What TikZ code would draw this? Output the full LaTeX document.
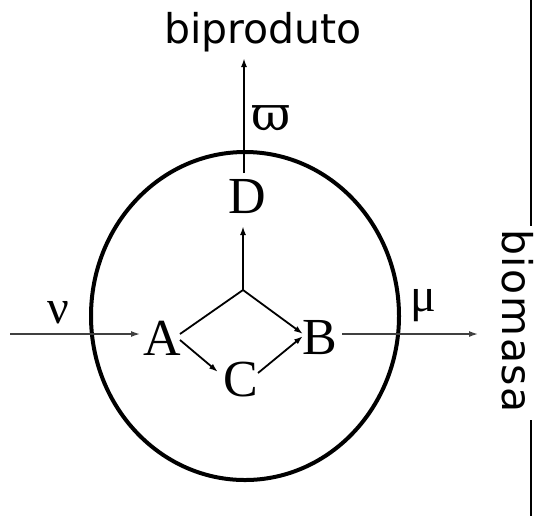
\documentclass[tikz,border=0pt]{standalone}
\usepackage{fontspec}
\setmainfont{Liberation Serif}
\newfontfamily\labsans{DejaVu Sans}
\newfontfamily\labsanswide[LetterSpace=4]{DejaVu Sans}
\newfontfamily\greekserif{DejaVu Serif}
\usetikzlibrary{arrows.meta}
\tikzset{
  letter/.style={inner sep=0pt, font=\fontsize{26}{26}\selectfont},
  greek/.style={inner sep=0pt, font=\fontsize{24}{24}\selectfont},
  title/.style={inner sep=0pt, font=\labsans\fontsize{20.5}{20.5}\selectfont},
  sidetitle/.style={inner sep=0pt, font=\labsanswide\fontsize{20.5}{20.5}\selectfont},
  flow/.style={line width=0.9pt, -{Latex[length=4.5pt,width=3pt]}},
  ext/.style={line width=0.7pt, black!75, -{Latex[length=4.5pt,width=3pt]}},
  wall/.style={line width=2pt},
}
\begin{document}
\begin{tikzpicture}[x=0.5pt,y=-0.5pt]
\useasboundingbox (0,0) rectangle (534,516);
% cell boundary
\draw[wall] (245,316) ellipse [x radius=77pt, y radius=82pt];
% nodes
\node[letter] (A) at (162,338) {A};
\node[letter] (B) at (320,338) {B};
\node[letter] (C) at (241,380) {C};
\node[letter] (D) at (247,197) {D};
\coordinate (J) at (243,290);
\coordinate (Aup) at (180,334);
\coordinate (Adn) at (180,340);
\coordinate (Bup) at (303,334);
\coordinate (Bdn) at (303,336);
\coordinate (Cin) at (218,372);
\coordinate (Cout) at (258,373);
\coordinate (Din) at (243,226);
\coordinate (Dout) at (244,173);
\coordinate (top) at (244,58);
\coordinate (nuin) at (10,334);
\coordinate (nuend) at (140,334);
\coordinate (muin) at (342,334);
\coordinate (muend) at (478,334);
% connectors
\draw[line width=0.9pt] (Aup) -- (J);
\draw[flow] (J) -- (Bup);
\draw[flow] (J) -- (Din);
\draw[flow] (Adn) -- (Cin);
\draw[flow] (Cout) -- (Bdn);
\draw[flow] (Dout) -- (top);
\draw[ext] (nuin) -- (nuend);
\draw[ext] (muin) -- (muend);
% labels
\node[greek] (nu) at (58,313) {ν};
\node[greek] (mu) at (423,306) {μ};
\node[greek] (varpi) at (271,118) {\greekserif ϖ};
\node[title, anchor=base] (bip) at (263,43) {biproduto};
\node[sidetitle, rotate=-90, anchor=base] (bio) at (502,321) {biomasa};
% right side line
\coordinate (r0) at (531,0);
\coordinate (r1) at (531,226);
\coordinate (r2) at (531,420);
\coordinate (r3) at (531,516);
\draw[line width=0.8pt] (r0) -- (r1);
\draw[line width=0.8pt] (r2) -- (r3);
\end{tikzpicture}
\end{document}
